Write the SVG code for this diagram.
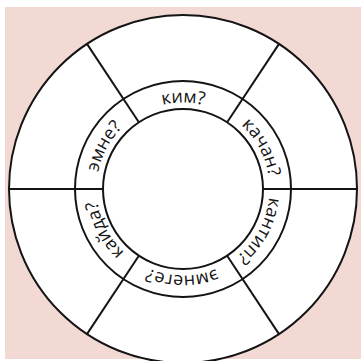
<svg xmlns="http://www.w3.org/2000/svg" xmlns:xlink="http://www.w3.org/1999/xlink" width="361" height="361" viewBox="0 0 361 361">
  <style>
    .ln { stroke: #141414; stroke-width: 2; fill: none; }
    .disc { stroke: #141414; stroke-width: 2; fill: #ffffff; }
    .lbl { font-family: "Open Sans", "Liberation Sans", sans-serif; font-size: 18px; fill: #141414; }
  </style>
  <defs>
    <path id="ringPath" d="M 96.5 189 A 86.5 86.5 0 0 1 269.5 189 A 86.5 86.5 0 0 1 96.5 189"/>
  </defs>
  <rect x="0" y="0" width="361" height="361" fill="#ffffff"/>
  <rect x="5" y="7" width="356" height="352" fill="#f3d9d3"/>
  <g id="wheel">
    <circle cx="183" cy="189" r="174" class="disc"/>
    <circle cx="183" cy="189" r="108" class="ln"/>
    <circle cx="183" cy="189" r="80" class="ln"/>
  </g>
  <g id="connectors">
    <line class="ln" x1="103" y1="189" x2="9" y2="189"/>
    <line class="ln" x1="263" y1="189" x2="357" y2="189"/>
    <line class="ln" x1="227.15" y1="122.29" x2="279.03" y2="43.9"/>
    <line class="ln" x1="138.85" y1="122.29" x2="86.97" y2="43.9"/>
    <line class="ln" x1="227.15" y1="255.71" x2="279.03" y2="334.1"/>
    <line class="ln" x1="138.85" y1="255.71" x2="86.97" y2="334.1"/>
  </g>
  <g id="label-emne"><text class="lbl" text-anchor="middle"><textPath xlink:href="#ringPath" href="#ringPath" startOffset="42.7">эмне?</textPath></text></g>
  <g id="label-kim"><text class="lbl" text-anchor="middle"><textPath xlink:href="#ringPath" href="#ringPath" startOffset="135.9">ким?</textPath></text></g>
  <g id="label-kachan"><text class="lbl" text-anchor="middle"><textPath xlink:href="#ringPath" href="#ringPath" startOffset="229.1">качан?</textPath></text></g>
  <g id="label-kantip"><text class="lbl" text-anchor="middle"><textPath xlink:href="#ringPath" href="#ringPath" startOffset="314.4">кантип?</textPath></text></g>
  <g id="label-emnege"><text class="lbl" text-anchor="middle"><textPath xlink:href="#ringPath" href="#ringPath" startOffset="407.6">эмнеге?</textPath></text></g>
  <g id="label-kayda"><text class="lbl" text-anchor="middle"><textPath xlink:href="#ringPath" href="#ringPath" startOffset="500.8">кайда?</textPath></text></g>
</svg>
